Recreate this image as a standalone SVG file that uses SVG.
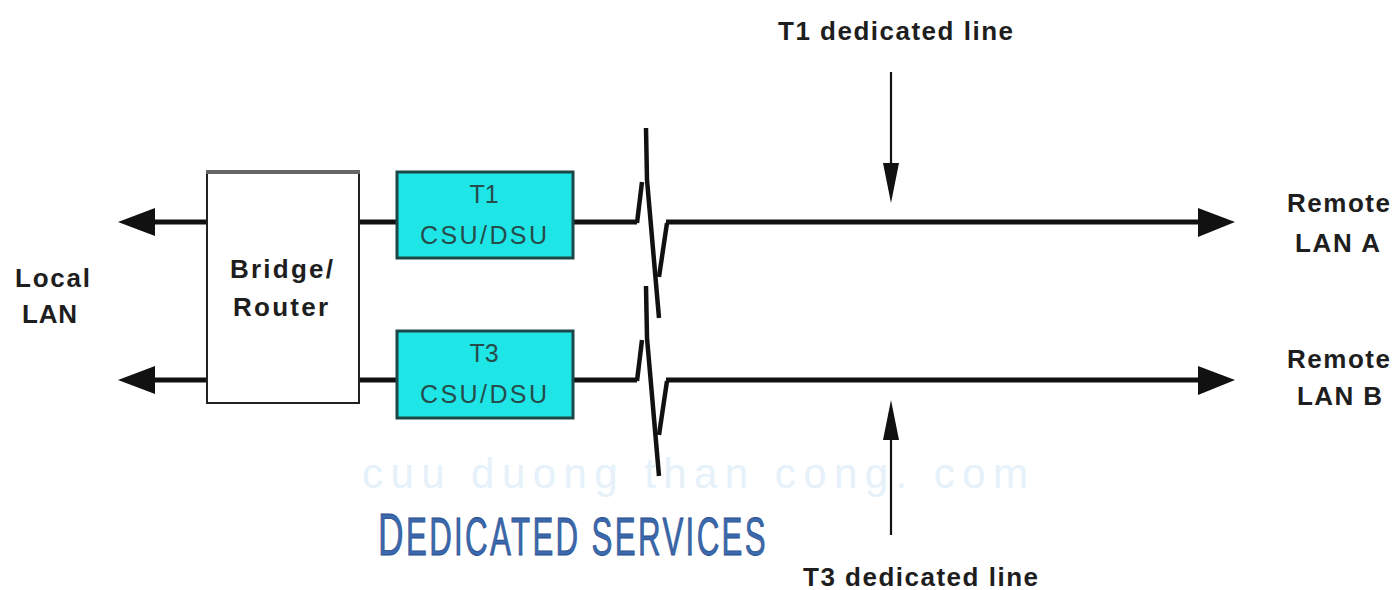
<svg xmlns="http://www.w3.org/2000/svg" width="1397" height="590" viewBox="0 0 1397 590">
<style>
.lbl{font-family:"Liberation Sans",Arial,sans-serif;font-size:26px;fill:#1e1e1e;font-weight:bold}
.box{font-family:"Liberation Sans",Arial,sans-serif;font-size:25px;fill:#264c4c}
.wire{fill:none;stroke:#111;stroke-width:5}
.brk{fill:none;stroke:#111;stroke-width:4.5;stroke-linejoin:miter}
.ptr{stroke:#111;stroke-width:2.2}
.head{fill:#111}
.csu{fill:#1ee6e6;stroke:#1d4646;stroke-width:3}
.title{font-family:"Liberation Sans",Arial,sans-serif;fill:#3a69ad;stroke:#2a4d8a;stroke-width:0.8;letter-spacing:4px}
.wm{font-family:"Liberation Sans",Arial,sans-serif;font-size:42px;fill:#e6f1fa}
</style>
<rect width="1397" height="590" fill="#ffffff"/>
<text class="wm" x="362" y="488" textLength="666" lengthAdjust="spacing">cuu duong than cong. com</text>

<g id="connectors">
  <!-- left arrows to Local LAN -->
  <line class="wire" x1="207" y1="222" x2="150" y2="222"/>
  <polygon class="head" points="118,222 155,208 155,236"/>
  <line class="wire" x1="207" y1="380" x2="150" y2="380"/>
  <polygon class="head" points="118,380 155,366 155,394"/>
  <!-- bridge to CSUs -->
  <line class="wire" x1="359" y1="222" x2="397" y2="222"/>
  <line class="wire" x1="359" y1="380" x2="397" y2="380"/>
  <!-- T1 line with break -->
  <path class="wire" d="M573 222 H637"/>
  <path class="brk" d="M637 223 L642 182"/>
  <path class="brk" d="M646 128 L647 180 L659 318"/>
  <path class="brk" d="M659 277 L667 223"/>
  <path class="wire" d="M666 222 H1203"/>
  <polygon class="head" points="1235,222 1198,208 1198,237"/>
  <!-- T3 line with break -->
  <path class="wire" d="M573 380 H637"/>
  <path class="brk" d="M637 381 L642 340"/>
  <path class="brk" d="M646 286 L647 338 L659 476"/>
  <path class="brk" d="M659 435 L667 381"/>
  <path class="wire" d="M666 380 H1203"/>
  <polygon class="head" points="1235,380 1198,366 1198,395"/>
  <!-- pointers -->
  <line class="ptr" x1="891" y1="72" x2="891" y2="168"/>
  <polygon class="head" points="883,163 899,163 891,203"/>
  <line class="ptr" x1="891" y1="535" x2="891" y2="436"/>
  <polygon class="head" points="883,440 899,440 891,400"/>
</g>

<g id="bridge-router">
  <rect x="207" y="172" width="152" height="231" fill="#ffffff" stroke="#222" stroke-width="2"/>
  <line x1="206" y1="172" x2="360" y2="172" stroke="#666" stroke-width="4"/>
  <text class="lbl" x="230" y="278" textLength="103" lengthAdjust="spacing">Bridge/</text>
  <text class="lbl" x="233" y="316" textLength="95" lengthAdjust="spacing">Router</text>
</g>

<g id="t1-csu">
  <rect class="csu" x="397" y="172" width="176" height="86"/>
  <text class="box" x="484" y="203" text-anchor="middle">T1</text>
  <text class="box" x="420" y="244" textLength="127" lengthAdjust="spacing">CSU/DSU</text>
</g>

<g id="t3-csu">
  <rect class="csu" x="397" y="331" width="176" height="87"/>
  <text class="box" x="484" y="362" text-anchor="middle">T3</text>
  <text class="box" x="420" y="403" textLength="127" lengthAdjust="spacing">CSU/DSU</text>
</g>

<g id="local-lan">
  <text class="lbl" x="15" y="287" textLength="75" lengthAdjust="spacing">Local</text>
  <text class="lbl" x="22" y="323" textLength="55" lengthAdjust="spacing">LAN</text>
</g>

<g id="remote-lan-a">
  <text class="lbl" x="1287" y="212" textLength="103" lengthAdjust="spacing">Remote</text>
  <text class="lbl" x="1295" y="252" textLength="85" lengthAdjust="spacing">LAN A</text>
</g>

<g id="remote-lan-b">
  <text class="lbl" x="1287" y="368" textLength="103" lengthAdjust="spacing">Remote</text>
  <text class="lbl" x="1297" y="405" textLength="85" lengthAdjust="spacing">LAN B</text>
</g>

<g id="t1-label">
  <text class="lbl" x="778" y="40" textLength="235" lengthAdjust="spacing">T1 dedicated line</text>
</g>

<g id="t3-label">
  <text class="lbl" x="803" y="586" textLength="235" lengthAdjust="spacing">T3 dedicated line</text>
</g>

<g id="title">
  <text class="title" transform="translate(378,555) scale(0.59,1)" x="0" y="0"><tspan font-size="60">D</tspan><tspan font-size="53">EDICATED SERVICES</tspan></text>
</g>
</svg>
